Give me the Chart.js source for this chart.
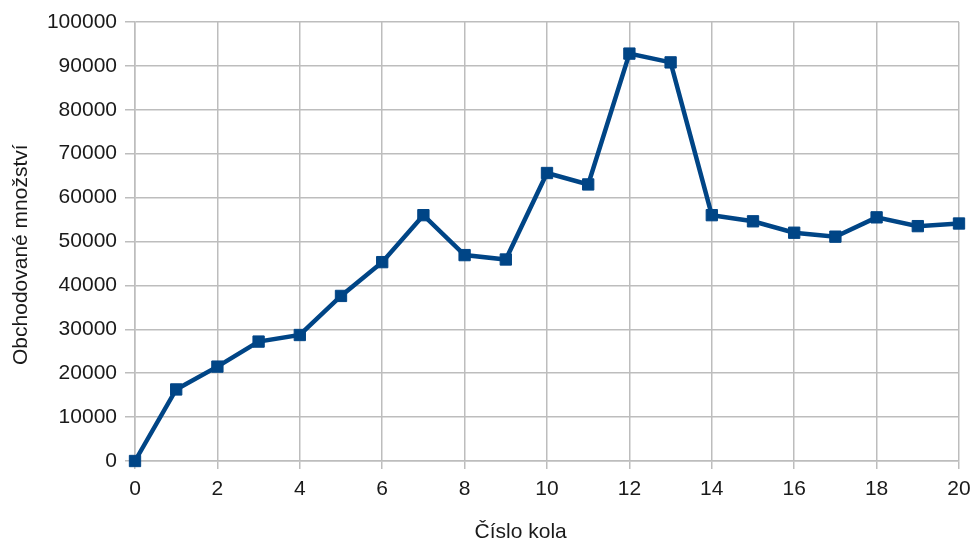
<!DOCTYPE html>
<html>
<head>
<meta charset="utf-8">
<script src="https://cdn.jsdelivr.net/npm/chart.js@4/dist/chart.umd.min.js"></script>
<style>
  html, body { margin: 0; padding: 0; background: #ffffff; }
  #wrap { width: 974px; height: 542px; }
</style>
</head>
<body>
<div id="wrap"><canvas id="c" width="974" height="542"></canvas></div>
<script>
// Round numbers and traded quantity per round
const rounds = [0, 1, 2, 3, 4, 5, 6, 7, 8, 9, 10, 11, 12, 13, 14, 15, 16, 17, 18, 19, 20];
const quantity = [0, 16300, 21500, 27200, 28700, 37600, 45300, 56000, 46900, 45900,
                  65600, 63000, 92800, 90800, 56000, 54600, 52000, 51100, 55500, 53500, 54100];
const xTitle = 'Číslo kola';
const yTitle = 'Obchodované množství';

const points = rounds.map((r, i) => ({ x: r, y: quantity[i] }));

const fontFamily = '"Liberation Sans", Arial, sans-serif';
const fontSize = 21;
const gridColor = '#bdbdbd';
const textColor = '#1a1a1a';

// Axis titles, placed relative to the plot area
const axisTitles = {
  id: 'axisTitles',
  afterDraw(chart) {
    const { ctx, chartArea } = chart;
    ctx.save();
    ctx.font = fontSize + 'px ' + fontFamily;
    ctx.fillStyle = textColor;
    ctx.textAlign = 'center';
    ctx.textBaseline = 'middle';
    const xc = chartArea.left + (chartArea.right - chartArea.left) * 0.468;
    ctx.fillText(xTitle, xc, chartArea.bottom + 71);
    const yc = chartArea.top + (chartArea.bottom - chartArea.top) * 0.53;
    ctx.translate(21, yc);
    ctx.rotate(-Math.PI / 2);
    ctx.fillText(yTitle, 0, 0);
    ctx.restore();
  }
};

new Chart(document.getElementById('c'), {
  type: 'line',
  data: {
    datasets: [{
      data: points,
      borderColor: '#004586',
      backgroundColor: '#004586',
      borderWidth: 4.5,
      pointStyle: 'rect',
      pointRadius: 8,
      pointBorderWidth: 1,
      pointBackgroundColor: '#004586',
      pointBorderColor: '#004586',
      tension: 0,
      fill: false,
      clip: false
    }]
  },
  options: {
    responsive: false,
    animation: false,
    layout: { padding: { top: 22, right: 15, bottom: 0, left: 0 } },
    plugins: { legend: { display: false }, tooltip: { enabled: false } },
    scales: {
      x: {
        type: 'linear',
        min: 0,
        max: 20,
        ticks: {
          stepSize: 2,
          color: textColor,
          font: { family: fontFamily, size: fontSize },
          padding: 8,
          maxRotation: 0
        },
        grid: { color: gridColor, lineWidth: 1.5, tickLength: 8 },
        border: { color: gridColor, width: 1.5 },
        afterFit: (scale) => {
          scale.height = 81;
          scale.paddingRight = 0;
          scale.paddingLeft = 0;
        }
      },
      y: {
        min: 0,
        max: 100000,
        ticks: {
          stepSize: 10000,
          color: textColor,
          font: { family: fontFamily, size: fontSize },
          padding: 8,
          callback: (v) => String(v)
        },
        grid: { color: gridColor, lineWidth: 1.5, tickLength: 10 },
        border: { color: gridColor, width: 1.5 },
        afterFit: (scale) => { scale.width = 135; }
      }
    }
  },
  plugins: [axisTitles]
});
</script>
</body>
</html>
